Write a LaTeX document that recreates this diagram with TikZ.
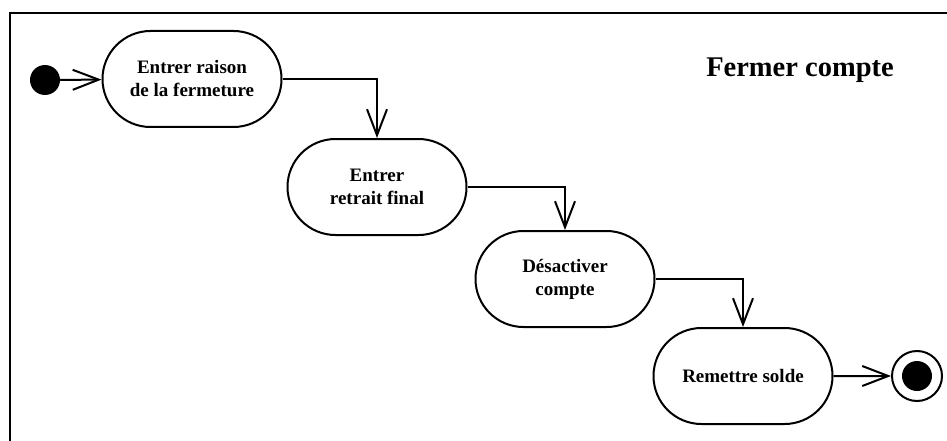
\documentclass[tikz,border=0pt]{standalone}
\usepackage{fontspec}
\setmainfont{Liberation Serif}
\usepackage{tikz}
\usetikzlibrary{arrows,arrows.meta,shapes.misc}

\begin{document}
\begin{tikzpicture}[x=1pt, y=-1pt, every node/.style={font=\bfseries\fontsize{19}{23}\selectfont, align=center},
    activity/.style={rounded rectangle, draw, line width=2pt, minimum width=183pt, minimum height=96pt, inner sep=2pt},
    flow/.style={line width=2pt, -{Straight Barb[length=26pt, width=20pt, line width=2pt]}} ]

            \useasboundingbox (0,0) rectangle (947,441);
            \draw[line width=2.4pt] (10,441) -- (10,13) -- (947,13);

            \node at (800,70) (titre) {\fontsize{28.5}{32}\selectfont Fermer compte};

            \node[circle, fill, minimum size=30pt, inner sep=0pt] (debut) at (45,80) {};
            \node[activity] (s1) at (192,79) {Entrer raison\\de la fermeture};
            \node[activity] (s2) at (377,187) {Entrer\\retrait final};
            \node[activity] (s3) at (565,279) {Désactiver\\compte};
            \node[activity] (s4) at (743,376) {Remettre solde};
            \node[circle, draw, line width=2pt, minimum size=50pt, inner sep=0pt] (fin) at (917,376) {};
            \node[circle, fill, minimum size=30pt, inner sep=0pt] (finc) at (fin) {};

            \draw[flow] (debut) -- (s1);
            \foreach \a/\b in {s1/s2,s2/s3,s3/s4}
                \draw[flow] (\a.east) -| (\b.north);
            \draw[flow] (s4) -- (fin);

        \end{tikzpicture}
\end{document}
